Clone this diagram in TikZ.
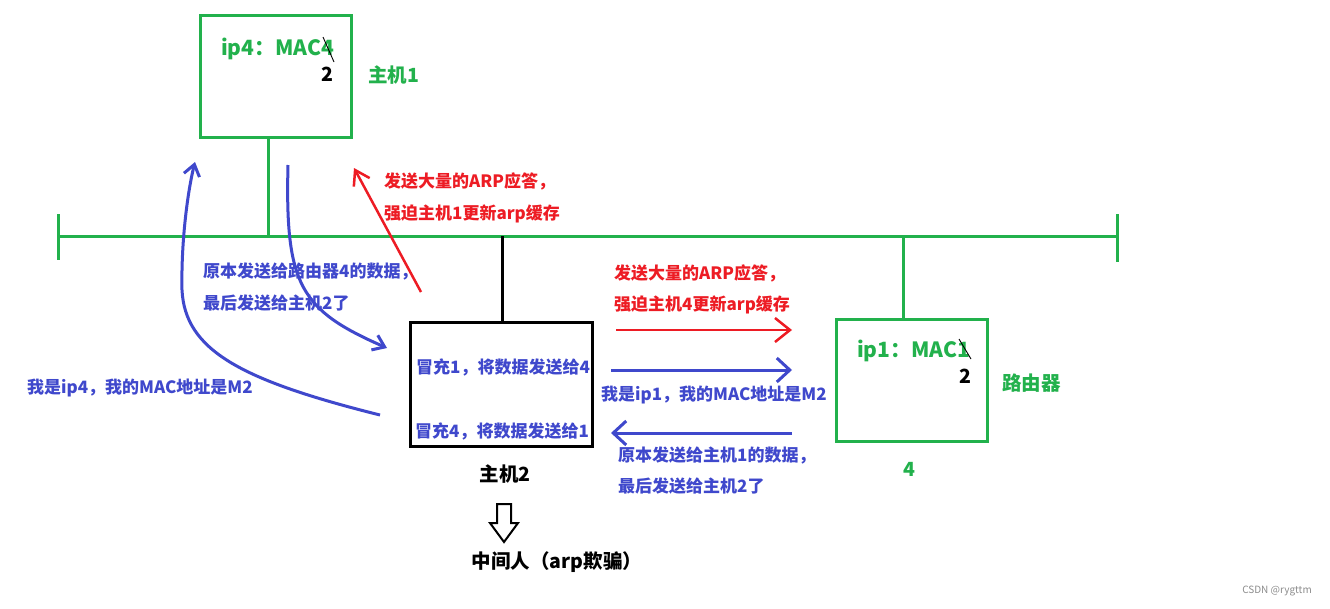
\documentclass[tikz,border=0pt]{standalone}
\usepackage{fontspec}
\setmainfont{Noto Sans CJK SC}
\newfontfamily\cjk{Noto Sans CJK SC}
\usetikzlibrary{arrows.meta}
\definecolor{pgreen}{RGB}{34,177,76}
\definecolor{pred}{RGB}{237,28,36}
\definecolor{pblue}{RGB}{63,72,204}
\tikzset{
  gline/.style={draw=pgreen,line width=3pt},
  kline/.style={draw=black,line width=3pt},
  small/.style={font=\cjk\bfseries\fontsize{17}{19}\selectfont,inner sep=0pt,anchor=west},
  big/.style={font=\cjk\bfseries\fontsize{19.5}{22}\selectfont,inner sep=0pt},
  iplab/.style={font=\cjk\bfseries\fontsize{21}{23}\selectfont,inner sep=0pt},
  redarr/.style={draw=pred,line width=2.5pt,-{Straight Barb[length=15pt,width=24pt,line width=2.5pt]}},
  bluearr/.style={draw=pblue,line width=3pt,-{Straight Barb[length=13pt,width=24pt,line width=3pt]}},
  bluecurve/.style={draw=pblue,line width=3pt,-{Straight Barb[length=11pt,width=16pt,line width=3pt]}},
  redsmall/.style={draw=pred,line width=2.5pt,-{Straight Barb[length=14pt,width=18pt,line width=2.5pt]}},
  slash/.style={draw=black,line width=0.9pt},
}
\begin{document}
\begin{tikzpicture}[x=1pt,y=-1pt]
\useasboundingbox[fill=white] (0,0) rectangle (1330,608);

% bus
\coordinate (busL) at (58,236);
\coordinate (busR) at (1117,236);
\coordinate (tickLt) at (58,214);
\coordinate (tickLb) at (58,260);
\coordinate (tickRt) at (1117,214);
\coordinate (tickRb) at (1117,262);
\draw[gline] (busL) -- (busR);
\draw[gline] (tickLt) -- (tickLb);
\draw[gline] (tickRt) -- (tickRb);

% host 1
\node[draw=pgreen,line width=3pt,minimum width=151pt,minimum height=122pt,inner sep=0pt] (h1) at (275.5,76) {};
\coordinate (h1bus) at (268,236);
\draw[gline] (h1.south -| h1bus) -- (h1bus);
\node[iplab,text=pgreen,anchor=west] (h1ip) at (221,49) {ip4：MAC4};
\node[big,text=black] (h1two) at (327,74) {2};
\coordinate (s1a) at (323,37);
\coordinate (s1b) at (334,62);
\draw[slash] (s1a) -- (s1b);
\node[big,text=pgreen,anchor=west] (h1lab) at (368,75) {主机1};

% router
\node[draw=pgreen,line width=3pt,minimum width=151pt,minimum height=122pt,inner sep=0pt] (rt) at (911.5,380) {};
\coordinate (rtbus) at (903,236);
\draw[gline] (rtbus) -- (rt.north -| rtbus);
\node[iplab,text=pgreen,anchor=west] (rtip) at (857,351) {ip1：MAC1};
\node[big,text=black] (rttwo) at (965,376) {2};
\coordinate (s2a) at (959,339);
\coordinate (s2b) at (971,359);
\draw[slash] (s2a) -- (s2b);
\node[big,text=pgreen,anchor=west] (rtlab) at (1002,383) {路由器};
\node[big,text=pgreen] (rtfour) at (909,469) {4};

% host 2
\node[draw=black,line width=3pt,minimum width=182pt,minimum height=124pt,inner sep=0pt] (h2) at (501,384) {};
\coordinate (h2bus) at (502,236);
\draw[kline] (h2bus) -- (h2.north -| h2bus);
\node[small,text=pblue,anchor=center] (h2t1) at (503,367) {冒充1，将数据发送给4};
\node[small,text=pblue,anchor=center] (h2t2) at (502,431) {冒充4，将数据发送给1};
\node[big,text=black] (h2lab) at (505,474) {主机2};

% hollow arrow and label
\draw[black,line width=2pt,line join=miter] (497,504) -- (511,504) -- (511,523) -- (518,523) -- (504,542) -- (490,523) -- (497,523) -- cycle;
\node[big,text=black] (mitm) at (557,562) {中间人（arp欺骗）};

% red arrow to host 1
\coordinate (r1s) at (421,292);
\coordinate (r1e) at (354,168);
\draw[redsmall] (r1s) -- (r1e);
\node[small,text=pred] (r1t1) at (384,181) {发送大量的ARP应答，};
\node[small,text=pred] (r1t2) at (384,214) {强迫主机1更新arp缓存};

% red arrow to router
\coordinate (r2s) at (616,330);
\coordinate (r2e) at (792,330);
\draw[redarr] (r2s) -- (r2e);
\node[small,text=pred] (r2t1) at (614,273) {发送大量的ARP应答，};
\node[small,text=pred] (r2t2) at (614,305) {强迫主机4更新arp缓存};

% blue arrows right side
\coordinate (b1s) at (611,370);
\coordinate (b1e) at (792,370);
\draw[bluearr] (b1s) -- (b1e);
\node[small,text=pblue] (b1t) at (601,395) {我是ip1，我的MAC地址是M2};
\coordinate (b2s) at (792,433);
\coordinate (b2e) at (611,433);
\draw[bluearr] (b2s) -- (b2e);
\node[small,text=pblue] (b2t1) at (618,455) {原本发送给主机1的数据，};
\node[small,text=pblue] (b2t2) at (618,486) {最后发送给主机2了};

% blue curves left side
\coordinate (c1s) at (288,165);
\coordinate (c1e) at (387,348);
\draw[bluecurve] (c1s) .. controls (285,285) and (300,310) .. (c1e);
\node[small,text=pblue] (c1t1) at (203,271) {原本发送给路由器4的数据，};
\node[small,text=pblue] (c1t2) at (203,303) {最后发送给主机2了};

\coordinate (c2s) at (380,415);
\coordinate (c2m) at (182,290);
\coordinate (c2e) at (195,162);
\draw[bluecurve] (c2s) .. controls (240,380) and (185,350) .. (c2m) .. controls (181,240) and (188,190) .. (c2e);
\node[small,text=pblue] (c2t) at (27,388) {我是ip4，我的MAC地址是M2};

% watermark
\node[font=\cjk\fontsize{10}{12}\selectfont,text=black!45,inner sep=0pt] (wm) at (1277,591) {CSDN @rygttm};
\end{tikzpicture}
\end{document}
